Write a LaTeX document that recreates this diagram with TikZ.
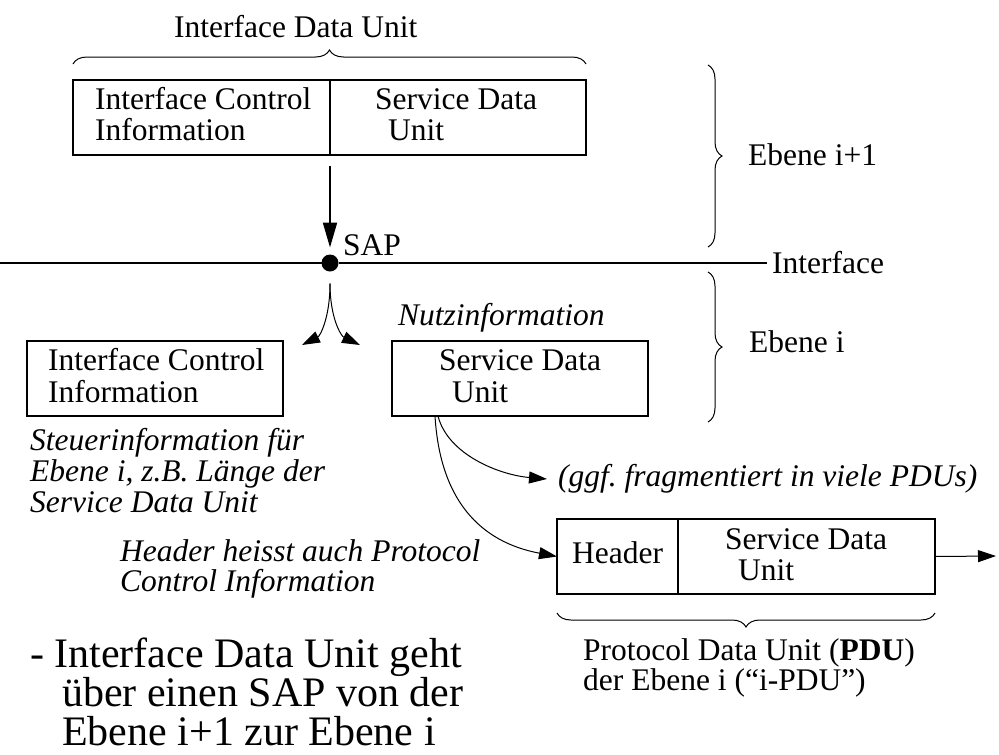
\documentclass[tikz,border=0pt]{standalone}
\usepackage{fontspec}
\setmainfont{Liberation Serif}
\usetikzlibrary{arrows.meta,decorations.pathreplacing,calc}

\begin{document}
\begin{tikzpicture}[x=1pt,y=-1pt,
  box/.style={draw, line width=1.2pt, inner sep=0pt, outer sep=0pt,
              anchor=north west, minimum height=75pt},
  % multi-line texts are placed by the baseline of their last line
  txt/.style={inner sep=0pt, anchor=base west, align=left,
              font=\fontsize{31.5}{30.5}\selectfont},
  itxt/.style={txt, font=\fontsize{31.5}{31}\selectfont\itshape},
  brc/.style={decorate, decoration={brace, amplitude=14pt}, line width=1pt},
  thinarrow/.style={line width=1pt, -{Triangle[length=18pt,width=12pt]}},
  bigarrow/.style={line width=2pt, -{Triangle[length=25pt,width=14pt]}},
]
\useasboundingbox (0,0) rectangle (999,755);

% --- Ebene i+1: interface data unit ---------------------------------
\node[txt] (idu) at (174,37) {Interface Data Unit};
\draw[brc] (73,64) -- (586,64);

\node[box, minimum width=257pt] (ici1) at (73,80) {};
\node[box, minimum width=256pt] (sdu1) at (330,80) {};
\node[txt] (ici1t) at (95,140) {Interface Control\\Information};
\node[txt] (sdu1t) at (375,140) {Service Data\\\hspace*{13pt}Unit};

% --- service access point on the interface --------------------------
\node[circle, fill, inner sep=0pt, outer sep=0pt, minimum size=17pt] (sap) at (330,263) {};
\coordinate (ifL) at (0,263);
\coordinate (ifR) at (767,263);
\draw[line width=2pt] (ifL) -- (sap) -- (ifR);
\node[txt] (iflbl) at (772,273) {Interface};
\node[txt] (saplbl) at (343,255) {SAP};

\draw[bigarrow] ($(ici1.south east)+(0,11)$) -- ($(sap.north)+(0,-7)$);

% split of the interface data unit
\coordinate (splitL) at (302,345);
\coordinate (splitR) at (360,345);
\draw[thinarrow] ($(sap.south)+(0,12)$) .. controls (330,318) and (320,336) .. (splitL);
\draw[thinarrow] ($(sap.south)+(0,12)$) .. controls (330,318) and (341,336) .. (splitR);

% --- layer braces -----------------------------------------------------
\draw[brc] (708,65) -- (708,247);
\draw[brc] (708,272) -- (708,422);
\node[txt] (e1) at (748,165) {Ebene i+1};
\node[txt] (e0) at (749,352) {Ebene i};

% --- Ebene i ----------------------------------------------------------
\node[box, minimum width=256pt] (ici2) at (27,341) {};
\node[txt, font=\fontsize{31.5}{32}\selectfont] (ici2t) at (48,402) {Interface Control\\Information};

\node[itxt] (nutz) at (398,325) {Nutzinformation};
\node[box, minimum width=256pt] (sdu2) at (392,341) {};
\node[txt, font=\fontsize{31.5}{32}\selectfont] (sdu2t) at (439,402) {Service Data\\\hspace*{13pt}Unit};

\node[itxt] (steuer) at (30,512) {Steuerinformation für\\Ebene i, z.B. Länge der\\Service Data Unit};
\node[itxt, font=\fontsize{31.5}{30}\selectfont\itshape] (hdrnote) at (120,591)
  {Header heisst auch Protocol\\Control Information};

% --- protocol data unit ---------------------------------------------
\node[box, minimum width=121pt] (hdr) at (557,519) {};
\node[box, minimum width=257pt] (sdu3) at (678,519) {};
\node[txt] (hdrt) at (572,563) {Header};
\node[txt] (sdu3t) at (725,580) {Service Data\\\hspace*{13pt}Unit};

\node[itxt] (frag) at (558,486) {(ggf.\ fragmentiert in viele PDUs)};
\coordinate (fragtip) at (547,479);
\draw[thinarrow] ($(sdu2.south west)+(46,0)$) .. controls (448,455) and (500,475) .. (fragtip);
\draw[thinarrow] ($(sdu2.south west)+(43,0)$) .. controls (440,500) and (480,542) .. (hdr.west);

\coordinate (out) at (996,556);
\draw[thinarrow] (sdu3.east) -- (out);

\draw[brc] (935,613) -- (557,613);
\node[txt, font=\fontsize{31.5}{25}\selectfont] (pdut) at (583,690)
  {Protocol Data Unit (\textbf{PDU})\\der Ebene i (“i-PDU”)};

% --- summary ------------------------------------------------------------
\node[txt, text depth=0pt, font=\fontsize{42}{39}\selectfont] (summary) at (30,745)
  {- Interface Data Unit geht\\\hspace*{32pt}über einen SAP von der\\\hspace*{32pt}Ebene i+1 zur Ebene i};
\end{tikzpicture}
\end{document}
